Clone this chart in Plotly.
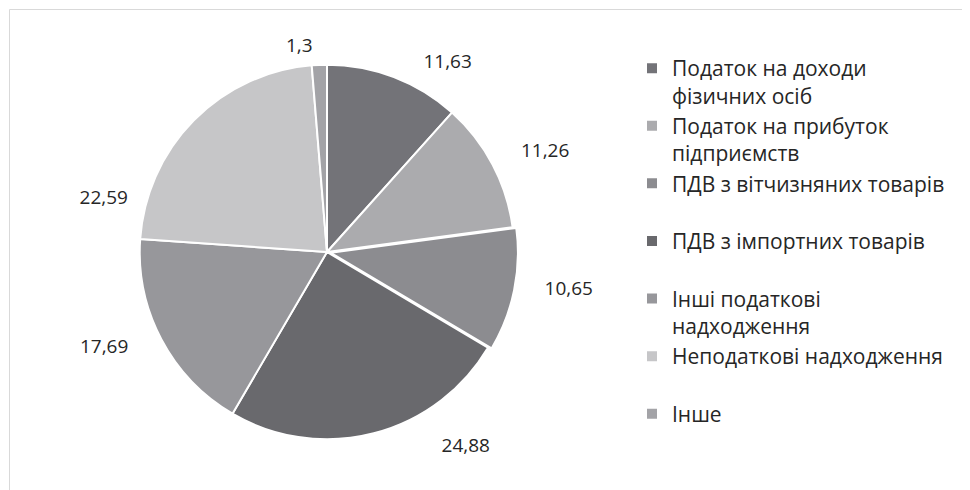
import plotly.graph_objects as go

labels = [
    "Податок на доходи<br>фізичних осіб",
    "Податок на прибуток<br>підприємств",
    "ПДВ з вітчизняних товарів<br> ",
    "ПДВ з імпортних товарів<br> ",
    "Інші податкові<br>надходження",
    "Неподаткові надходження<br> ",
    "Інше<br> ",
]
values = [11.63, 11.26, 10.65, 24.88, 17.69, 22.59, 1.3]
colors = ["#737378", "#ababae", "#8c8c90", "#69696d", "#97979b", "#c6c6c8", "#a3a3a7"]
pulls = [0, 0, 0.02, 0, 0, 0, 0]

# where each value label sits: radius of its carrier ring and angular nudge (deg)
label_r = [202, 212, 214, 213, 213, 200, 194]
label_rot = [5.5, 0, -2, -16, 2.3, -29, 0]

W, H = 970, 490
# page body adds an 8px offset, so positions below are in figure pixels
cx, cy = 319, 244
r_pie = 191     # domain half-size (pie shrinks by the pull)


def dom(r):
    return dict(x=[(cx - r) / W, (cx + r) / W], y=[1 - (cy + r) / H, 1 - (cy - r) / H])


fig = go.Figure()
# value labels: one invisible ring per label so each can be placed like the original
for i in range(len(values)):
    fig.add_trace(go.Pie(
        labels=labels, values=values, sort=False, direction="clockwise",
        rotation=label_rot[i],
        marker=dict(colors=["rgba(0,0,0,0)"] * len(values), line=dict(width=0)),
        textposition=["outside" if j == i else "none" for j in range(len(values))],
        texttemplate="%{value}",
        textfont=dict(size=19, color="#262626", family="Open Sans"),
        showlegend=False, hoverinfo="skip", domain=dom(label_r[i]),
    ))
fig.add_trace(go.Pie(
    labels=labels, values=values, sort=False, direction="clockwise", rotation=0,
    pull=pulls,
    marker=dict(colors=colors, line=dict(color="white", width=2)),
    textposition="none",
    domain=dom(r_pie),
))

fig.update_layout(
    width=W, height=H,
    margin=dict(l=0, r=0, t=0, b=0, autoexpand=False),
    separators=", ",
    paper_bgcolor="white",
    font=dict(family="Open Sans", size=21, color="#262626"),
    legend=dict(x=624 / W, y=1 - 40 / H, xanchor="left", yanchor="top",
                valign="top", font=dict(size=21), itemclick=False),
    shapes=[
        dict(type="rect", xref="paper", yref="paper", x0=1.5 / W, x1=1.05,
             y0=-0.05, y1=1 - 1.5 / H, line=dict(color="#d9d9d9", width=1),
             fillcolor="rgba(0,0,0,0)", layer="below"),
    ],
)

fig.write_html("out.html")
